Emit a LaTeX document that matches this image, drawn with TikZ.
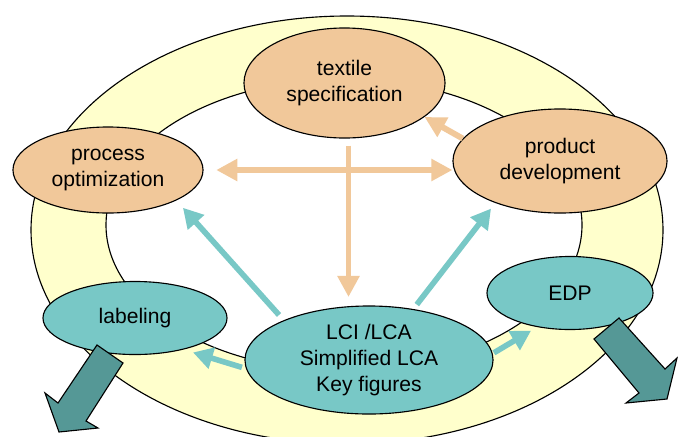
\documentclass[tikz,border=0pt]{standalone}
\usepackage{fontspec}
\setmainfont{Liberation Sans}
\usetikzlibrary{arrows.meta,shapes.geometric}

\definecolor{ringyellow}{RGB}{255,255,204}
\definecolor{peach}{RGB}{241,200,154}
\definecolor{lightteal}{RGB}{120,200,198}
\definecolor{darkteal}{RGB}{85,152,150}

\begin{document}
\begin{tikzpicture}[x=0.025cm, y=-0.025cm,
	bubble/.style={ellipse, draw=black, line width=0.8pt, inner sep=0pt, align=center,
		font=\fontsize{15}{18.5}\selectfont},
	peachbubble/.style={bubble, fill=peach},
	tealbubble/.style={bubble, fill=lightteal},
	peacharrow/.style={draw=peach, line width=4.2pt, >={Triangle[length=15pt,width=15pt]}},
	tealarrow/.style={draw=lightteal, line width=4pt, >={Triangle[length=14pt,width=15pt]}},
	bigarrow/.style={fill=darkteal, draw=black, line width=0.8pt}]
				\fill[white] (0,0) rectangle (683,436);
				\useasboundingbox (0,0) rectangle (683,436);
				
				% Ring
				\path[fill=ringyellow, draw=black, line width=0.8pt, even odd rule]
					(347,230) ellipse [x radius=316, y radius=214]
					(344,225) ellipse [x radius=238, y radius=146];
				
				% Bubbles
				\node[peachbubble, minimum width=5.025cm, minimum height=2.75cm] (textile) at (344.5,83) {textile\\specification};
				\node[peachbubble, minimum width=4.75cm, minimum height=2.15cm] (proc) at (108,170) {process\\optimization};
				\node[peachbubble, minimum width=5.35cm, minimum height=2.6cm] (prod) at (560,161) {product\\development};
				\node[tealbubble, minimum width=4.15cm, minimum height=1.825cm] (edp) at (570,293) {EDP};
				\node[tealbubble, minimum width=4.6cm, minimum height=1.825cm] (labeling) at (135,318) {labeling};
				\node[tealbubble, minimum width=6.2cm, minimum height=2.7cm] (lca) at (369,360) {LCI /LCA\\Simplified LCA\\Key figures};
				
				% Peach arrows
				\draw[peacharrow, <->, shorten <=9pt] (proc.east) -- (proc.east -| prod.west);
				\draw[peacharrow, ->, shorten <=5pt, shorten >=6pt] ([xshift=1mm]textile.south) -- ([xshift=1mm]textile.south |- lca.north);
				\draw[peacharrow, ->] (prod.167) -- (textile.337);
				
				% Teal arrows
				\draw[tealarrow, ->, shorten <=5pt, shorten >=7pt] (lca.155) -- (proc.336);
				\draw[tealarrow, ->, shorten <=4pt, shorten >=5pt] (lca.49) -- (prod.213);
				\draw[tealarrow, ->, shorten <=3pt, shorten >=7pt] (lca.184) -- (labeling.327); % to labeling
				\draw[tealarrow, ->, shorten <=1pt, shorten >=5pt] (lca.3) -- (edp.226); % to EDP
				
				% Block arrows
				\draw[bigarrow] (97,345) -- (123,363) -- (86,421) -- (98,428) -- (59,432) -- (45,393) -- (58,403) -- cycle;
				\draw[bigarrow] (594,339) -- (619,318) -- (665,369) -- (677,358) -- (667,399) -- (626,403) -- (639,393) -- cycle;
			\end{tikzpicture}
\end{document}
